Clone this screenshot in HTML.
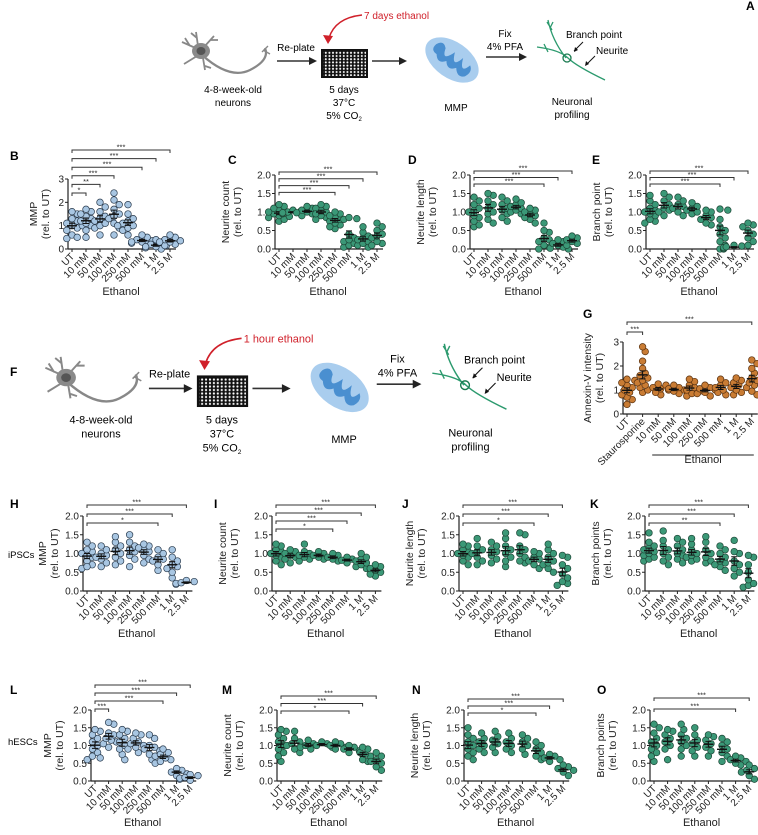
<!DOCTYPE html>
<html><head><meta charset="utf-8">
<style>
html,body{margin:0;padding:0;background:#fff;}
svg{display:block;font-family:"Liberation Sans",Arial,sans-serif;}
</style></head>
<body>
<svg id="fig" width="758" height="835" viewBox="0 0 758 835" xmlns="http://www.w3.org/2000/svg">
<defs>
<pattern id="wells" width="3.6" height="3.2" patternUnits="userSpaceOnUse"><circle cx="1.8" cy="1.6" r="1" fill="#fff"/></pattern>
</defs>
<g font-weight="bold" font-size="12" fill="#000">
<text x="746" y="10">A</text>
<text x="10" y="160">B</text>
<text x="228" y="164">C</text>
<text x="408" y="164">D</text>
<text x="592" y="164">E</text>
<text x="10" y="376">F</text>
<text x="583" y="318">G</text>
<text x="10" y="508">H</text>
<text x="214" y="508">I</text>
<text x="402" y="508">J</text>
<text x="590" y="508">K</text>
<text x="10" y="694">L</text>
<text x="222" y="694">M</text>
<text x="412" y="694">N</text>
<text x="597" y="694">O</text>
</g>
<text x="8" y="558" font-size="9.5">iPSCs</text>
<text x="8" y="745" font-size="9.5">hESCs</text>
<g id="diagA"></g>
<g id="diagF" transform="translate(-153,322) scale(1.09)"></g>
<g id="charts"></g>
</svg>
<script>
const NS="http://www.w3.org/2000/svg";
function mk(parent,tag,attrs,txt){const e=document.createElementNS(NS,tag);for(const k in attrs)e.setAttribute(k,attrs[k]);if(txt!==undefined)e.textContent=txt;parent.appendChild(e);return e;}

function diagram(g,redText){
  const dy=0;
  const t=(x,y)=>x+","+(y+dy);
  const n=mk(g,'g',{});
  
  
  mk(n,'path',{d:`M${t(202,55)} Q${t(230,80)} ${t(250,70)} T${t(265,48)}`,stroke:'#888',fill:'none','stroke-width':2.2});
  mk(n,'path',{d:`M${t(262,52)} L${t(268,46)} M${t(263,50)} L${t(270,54)}`,stroke:'#888','stroke-width':1.4});
  mk(n,'path',{d:`M${t(200,50)} L${t(182,42)} M${t(190,46)} L${t(185,38)} M${t(198,46)} L${t(196,32)} M${t(197,38)} L${t(191,33)} M${t(204,47)} L${t(214,36)} M${t(210,40)} L${t(218,40)} M${t(197,56)} L${t(184,64)} M${t(203,58)} L${t(205,70)} M${t(205,66)} L${t(211,68)}`,stroke:'#888','stroke-width':1.8,fill:'none'});
  mk(n,'ellipse',{cx:201,cy:51+dy,rx:9,ry:8,fill:'#8a8a8a'});
  mk(n,'ellipse',{cx:201,cy:51+dy,rx:4.5,ry:4,fill:'#555'});
  mk(g,'text',{x:233,y:93+dy,'font-size':10,'text-anchor':'middle'},'4-8-week-old');
  mk(g,'text',{x:233,y:106+dy,'font-size':10,'text-anchor':'middle'},'neurons');
  const arrows=[[277,317,61,'Re-plate',296,51],[372,407,61,null],[486,527,57,'Fix',505,37]];
  arrows.forEach(a=>{
    const ar=mk(g,'g',{});
    
    
    mk(ar,'line',{x1:a[0],y1:a[2]+dy,x2:a[1]-6,y2:a[2]+dy,stroke:'#333','stroke-width':1.5});
    mk(ar,'path',{d:`M${a[1]},${a[2]+dy} L${a[1]-8},${a[2]-4+dy} L${a[1]-8},${a[2]+4+dy}Z`,fill:'#222'});
    if(a[3])mk(ar,'text',{x:a[4],y:a[5]+dy,'font-size':10,'text-anchor':'middle'},a[3]);
  });
  mk(g,'text',{x:505,y:50+dy,'font-size':10,'text-anchor':'middle'},'4% PFA');
  const p=mk(g,'g',{});
  
  
  mk(p,'rect',{x:321,y:49+dy,width:47,height:29,fill:'#111'});
  mk(p,'rect',{x:323,y:51+dy,width:43,height:25,fill:'url(#wells)'});
  mk(g,'text',{x:344,y:93+dy,'font-size':10,'text-anchor':'middle'},'5 days');
  mk(g,'text',{x:344,y:106+dy,'font-size':10,'text-anchor':'middle'},'37°C');
  const co=mk(g,'text',{x:344,y:119+dy,'font-size':10,'text-anchor':'middle'},'5% CO');
  mk(co,'tspan',{'font-size':6,dy:2},'2');
  const r=mk(g,'g',{});
  
  
  mk(r,'path',{d:`M${t(362,15)} Q${t(335,18)} ${t(329,38)}`,stroke:'#d0202a',fill:'none','stroke-width':1.5});
  mk(r,'path',{d:`M${t(328,44)} L${t(323,35)} L${t(333,36)}Z`,fill:'#d0202a'});
  mk(r,'text',{x:364,y:19+dy,'font-size':10,fill:'#d0202a'},redText);
  const m=mk(g,'g',{transform:`translate(452,${60+dy}) rotate(35)`});
  
  
  mk(m,'ellipse',{cx:0,cy:0,rx:30,ry:18,fill:'#a9cdee'});
  mk(m,'path',{d:'M-22,-4 Q-18,-12 -12,-6 Q-8,8 -2,-8 Q4,8 8,-8 Q14,8 18,-6 Q24,-2 20,6 Q14,12 8,4 Q2,12 -4,4 Q-10,12 -16,4 Q-24,4 -22,-4Z',fill:'#4a8fd0'});
  mk(g,'text',{x:456,y:111+dy,'font-size':10,'text-anchor':'middle'},'MMP');
  const q=mk(g,'g',{});
  
  
  mk(q,'path',{d:`M${t(537,47)} Q${t(560,50)} ${t(568,58)} T${t(605,80)} M${t(548,20)} Q${t(552,40)} ${t(566,58)} M${t(547,22)} L${t(552,30)} M${t(553,22)} L${t(550,28)} M${t(544,44)} L${t(548,52)}`,stroke:'#2c9a6e',fill:'none','stroke-width':1.3});
  mk(q,'circle',{cx:567,cy:58+dy,r:4,fill:'none',stroke:'#1a7a50','stroke-width':1.3});
  mk(q,'text',{x:566,y:38+dy,'font-size':10},'Branch point');
  mk(q,'path',{d:`M${t(583,42)} L${t(574,51)}`,stroke:'#111','stroke-width':1});
  mk(q,'path',{d:`M${t(574,52)} L${t(575,47)} L${t(578,50)}Z`,fill:'#111'});
  mk(q,'text',{x:596,y:54+dy,'font-size':10},'Neurite');
  mk(q,'path',{d:`M${t(595,56)} L${t(586,65)}`,stroke:'#111','stroke-width':1});
  mk(q,'path',{d:`M${t(585,66)} L${t(586,61)} L${t(589,64)}Z`,fill:'#111'});
  mk(g,'text',{x:572,y:105+dy,'font-size':10,'text-anchor':'middle'},'Neuronal');
  mk(g,'text',{x:572,y:118+dy,'font-size':10,'text-anchor':'middle'},'profiling');
}
diagram(document.getElementById('diagA'),'7 days ethanol');
diagram(document.getElementById('diagF'),'1 hour ethanol');

// ---------- chart data ----------
const catsEthanol=["UT","10 mM","50 mM","100 mM","250 mM","500 mM","1 M","2.5 M"];
const catsG=["UT","Staurosporine","10 mM","50 mM","100 mM","250 mM","500 mM","1 M","2.5 M"];
const ticks3=[0,1,2,3];
const ticks2=[0,0.5,1,1.5,2];
const tickLabels3=["0","1","2","3"];
const tickLabels2=["0.0","0.5","1.0","1.5","2.0"];

const valsB=[[0.45,0.6,0.8,0.9,1.0,1.1,1.2,1.3,1.5,1.6,0.5,1.0],[0.5,0.8,1.0,1.2,1.3,1.4,1.5,1.6,1.7,1.1],[0.6,0.9,1.0,1.2,1.3,1.4,1.6,1.8,2.0,1.1],[0.6,0.9,1.1,1.3,1.5,1.7,1.9,2.1,2.4,1.4],[0.6,0.8,0.9,1.0,1.1,1.2,1.3,1.5,1.9,1.0],[0.2,0.25,0.3,0.35,0.4,0.5,0.6,0.3],[0.0,0.05,0.1,0.15,0.2,0.3,0.4,0.1],[0.15,0.2,0.3,0.35,0.4,0.5,0.6,0.3]];
const valsC=[[0.75,0.8,0.85,0.9,0.95,1.0,1.05,1.1,1.15,1.2,0.88,1.0],[0.95,0.97,1.0,1.02,1.05,0.98],[0.9,0.95,1.0,1.05,1.1,1.15,0.98,1.02],[0.8,0.85,0.9,1.0,1.05,1.1,1.15,1.2,0.95],[0.55,0.65,0.7,0.75,0.8,0.85,0.9,0.95,1.0,0.6],[0.05,0.1,0.15,0.2,0.3,0.4,0.8,0.85,0.82,0.25],[0.05,0.1,0.15,0.2,0.25,0.3,0.35,0.45,0.6],[0.1,0.15,0.2,0.3,0.35,0.4,0.5,0.6,0.7]];
const valsD=[[0.6,0.65,0.75,0.85,0.9,1.0,1.05,1.1,1.2,1.3,1.4],[0.7,0.8,0.95,1.0,1.1,1.2,1.3,1.45,1.5],[0.75,0.85,0.95,1.05,1.1,1.2,1.3,1.4],[0.95,1.0,1.05,1.1,1.15,1.2,1.25,1.35],[0.7,0.8,0.85,0.9,0.95,1.0,1.05,1.1],[0.0,0.05,0.1,0.2,0.25,0.3,0.45,0.5,0.7],[0.0,0.02,0.05,0.1,0.15,0.2,0.25],[0.1,0.15,0.2,0.25,0.3,0.35]];
const valsE=[[0.7,0.75,0.8,0.9,0.95,1.0,1.05,1.1,1.2,1.3,1.45],[0.9,1.0,1.1,1.2,1.3,1.4,1.5,1.05],[0.9,1.0,1.1,1.15,1.2,1.3,1.4],[0.95,1.0,1.05,1.1,1.15,1.25],[0.65,0.7,0.8,0.85,0.9,1.0,1.05],[0.0,0.1,0.2,0.3,0.4,0.5,0.6,0.8,1.05,1.08],[0.0,0.02,0.04,0.06,0.08,0.1],[0.1,0.2,0.3,0.4,0.5,0.6,0.65,0.7]];
const valsG=[[0.4,0.6,0.7,0.8,0.9,1.0,1.1,1.2,1.3,1.4,1.45],[0.9,1.0,1.1,1.2,1.3,1.4,1.5,1.6,1.7,1.9,2.2,2.6,2.8],[0.8,0.9,1.0,1.05,1.1,1.2,1.25],[0.85,0.95,1.0,1.05,1.1,1.2],[0.75,0.85,0.95,1.0,1.1,1.2,1.35,1.45],[0.75,0.85,0.9,1.0,1.05,1.1,1.2],[0.8,0.9,1.0,1.1,1.2,1.3,1.45],[0.8,0.9,1.0,1.1,1.2,1.3,1.4,1.5],[0.8,0.95,1.1,1.2,1.3,1.4,1.5,1.7,1.9,2.1,2.25]];
const valsH=[[0.6,0.7,0.8,0.9,1.0,1.05,1.1,1.2,1.3,0.65,0.95],[0.65,0.75,0.85,0.95,1.0,1.1,1.2,0.9],[0.7,0.8,0.9,1.0,1.1,1.2,1.3,1.45],[0.65,0.85,0.95,1.05,1.1,1.2,1.3,1.5],[0.75,0.85,0.95,1.05,1.1,1.15,1.2,1.25],[0.55,0.7,0.8,0.85,0.9,1.0,1.1],[0.35,0.5,0.6,0.65,0.7,0.8,0.9,1.1],[0.18,0.2,0.22,0.25,0.28]];
const valsI=[[0.7,0.8,0.9,0.95,1.0,1.05,1.1,1.2,1.25],[0.75,0.85,0.9,0.95,1.0,1.05,1.1],[0.8,0.85,0.9,0.95,1.0,1.05,1.25],[0.85,0.9,0.95,1.0,1.05],[0.8,0.85,0.9,0.95,1.0],[0.75,0.8,0.82,0.85,0.9],[0.6,0.65,0.7,0.75,0.8,0.85,0.9,1.0],[0.4,0.45,0.5,0.55,0.6,0.65,0.7]];
const valsJ=[[0.7,0.8,0.9,0.95,1.0,1.05,1.1,1.2,1.25],[0.7,0.8,0.9,1.0,1.05,1.1,1.2,1.4],[0.75,0.85,0.95,1.05,1.1,1.2,1.3],[0.65,0.8,0.9,1.0,1.1,1.2,1.4,1.55],[0.75,0.8,0.9,1.0,1.1,1.2,1.5,1.55],[0.6,0.7,0.8,0.85,0.9,1.0,1.05],[0.5,0.6,0.7,0.75,0.8,0.9,1.0,1.1,1.25],[0.15,0.2,0.25,0.35,0.45,0.6,0.7,0.9,0.95]];
const valsK=[[0.8,0.85,0.9,0.95,1.0,1.05,1.1,1.15,1.2,1.3,1.55],[0.7,0.8,0.9,1.0,1.1,1.2,1.35,1.6],[0.75,0.85,0.95,1.0,1.1,1.2,1.3,1.4],[0.8,0.85,0.9,0.95,1.0,1.1,1.25,1.4],[0.75,0.8,0.9,1.0,1.1,1.3,1.45],[0.55,0.65,0.7,0.75,0.8,0.9,1.0,1.1,1.2],[0.4,0.5,0.6,0.7,0.8,1.0,1.05,1.35],[0.1,0.15,0.2,0.3,0.5,0.7,0.9,0.95]];
const valsL=[[0.6,0.7,0.8,0.9,1.0,1.1,1.2,1.3,1.4,1.45,0.65],[0.95,1.05,1.1,1.15,1.2,1.3,1.35,1.6,1.65],[0.6,0.75,0.9,1.0,1.1,1.2,1.3,1.4,1.45],[0.8,0.9,0.95,1.0,1.05,1.1,1.2,1.3,1.35],[0.6,0.75,0.85,0.9,0.95,1.0,1.2,1.3],[0.5,0.55,0.6,0.65,0.7,0.75,0.8,0.9],[0.15,0.2,0.25,0.3,0.35],[0.02,0.05,0.08,0.1,0.15,0.18]];
const valsM=[[0.55,0.7,0.8,0.9,1.0,1.1,1.2,1.3,1.4,1.45],[0.8,0.9,1.0,1.05,1.1,1.2,1.4],[0.9,0.95,1.0,1.05,1.15],[0.95,1.0,1.05,1.1],[0.9,0.95,1.0,1.05,1.1],[0.8,0.85,0.9,0.95,1.0],[0.55,0.6,0.7,0.75,0.8,0.9,0.95],[0.3,0.4,0.5,0.55,0.6,0.7,0.8]];
const valsN=[[0.6,0.7,0.8,0.9,1.0,1.1,1.2,1.3,1.5],[0.8,0.9,1.0,1.1,1.2,1.35],[0.8,0.95,1.05,1.15,1.25,1.4],[0.8,0.9,1.0,1.1,1.2,1.35],[0.75,0.9,1.0,1.1,1.2,1.3],[0.6,0.7,0.8,0.9,1.0,1.1],[0.55,0.6,0.65,0.7,0.75],[0.15,0.25,0.3,0.35,0.4,0.45]];
const valsO=[[0.55,0.7,0.8,0.9,1.0,1.1,1.2,1.35,1.5,1.6],[0.6,0.9,1.0,1.1,1.2,1.3,1.4,1.45],[0.7,0.9,1.0,1.1,1.2,1.3,1.45,1.6],[0.7,0.85,0.95,1.05,1.15,1.3,1.5],[0.7,0.85,0.95,1.05,1.15,1.25,1.3],[0.55,0.7,0.8,0.9,1.0,1.1,1.2],[0.45,0.5,0.55,0.6,0.65,0.7],[0.05,0.15,0.25,0.3,0.35,0.45]];

const sigB=[[1,"*"],[2,"**"],[3,"***"],[5,"***"],[6,"***"],[7,"***"]];
const sigC=[[4,"***"],[5,"***"],[6,"***"],[7,"***"]];
const sigD=[[5,"***"],[6,"***"],[7,"***"]];
const sigE=[[5,"***"],[6,"***"],[7,"***"]];
const sigG=[[1,"***"],[8,"***"]];
const sigH=[[5,"*"],[6,"***"],[7,"***"]];
const sigI=[[4,"*"],[5,"***"],[6,"***"],[7,"***"]];
const sigJ=[[5,"*"],[6,"***"],[7,"***"]];
const sigK=[[5,"**"],[6,"***"],[7,"***"]];
const sigL=[[1,"***"],[5,"***"],[6,"***"],[7,"***"]];
const sigM=[[5,"*"],[6,"***"],[7,"***"]];
const sigN=[[5,"*"],[6,"***"],[7,"***"]];
const sigO=[[6,"***"],[7,"***"]];

const BLUE={fill:'#a8c6e2',stroke:'#2a3b4d'}, GREEN={fill:'#3b9877',stroke:'#1d4636'}, ORANGE={fill:'#c97c34',stroke:'#5a3210'};

const panels=[
 {id:'b',vals:valsB,sig:sigB,cats:catsEthanol,ticks:ticks3,tl:tickLabels3,max:3,ax:68,y0:249,yT:179,sp:14,c:BLUE,lab:['MMP','(rel. to UT)'],lo:[-31,-19],bTop:150,bSp:8.6,eth:295},
 {id:'c',vals:valsC,sig:sigC,cats:catsEthanol,ticks:ticks2,tl:tickLabels2,max:2,ax:275,y0:249,yT:175,sp:14,c:GREEN,lab:['Neurite count','(rel. to UT)'],lo:[-46,-34],bTop:172,bSp:6.8,eth:295},
 {id:'d',vals:valsD,sig:sigD,cats:catsEthanol,ticks:ticks2,tl:tickLabels2,max:2,ax:470,y0:249,yT:175,sp:14,c:GREEN,lab:['Neurite length','(rel. to UT)'],lo:[-46,-34],bTop:171,bSp:6.5,eth:295},
 {id:'e',vals:valsE,sig:sigE,cats:catsEthanol,ticks:ticks2,tl:tickLabels2,max:2,ax:646,y0:249,yT:175,sp:14,c:GREEN,lab:['Branch point','(rel. to UT)'],lo:[-46,-34],bTop:171,bSp:6.5,eth:295},
 {id:'g',vals:valsG,sig:sigG,cats:catsG,ticks:ticks3,tl:tickLabels3,max:3,ax:623,y0:414,yT:342,sp:15.6,c:ORANGE,lab:['Annexin-V intensity','(rel. to UT)'],lo:[-32,-20],bTop:322,bSp:10,eth:463,ethLine:[2,8]},
 {id:'h',vals:valsH,sig:sigH,cats:catsEthanol,ticks:ticks2,tl:tickLabels2,max:2,ax:83,y0:591,yT:516,sp:14.2,c:BLUE,lab:['MMP','(rel. to UT)'],lo:[-37,-25],bTop:505,bSp:9,eth:637},
 {id:'i',vals:valsI,sig:sigI,cats:catsEthanol,ticks:ticks2,tl:tickLabels2,max:2,ax:272,y0:591,yT:516,sp:14.2,c:GREEN,lab:['Neurite count','(rel. to UT)'],lo:[-46,-34],bTop:505,bSp:8,eth:637},
 {id:'j',vals:valsJ,sig:sigJ,cats:catsEthanol,ticks:ticks2,tl:tickLabels2,max:2,ax:459,y0:591,yT:516,sp:14.2,c:GREEN,lab:['Neurite length','(rel. to UT)'],lo:[-46,-34],bTop:505,bSp:9,eth:637},
 {id:'k',vals:valsK,sig:sigK,cats:catsEthanol,ticks:ticks2,tl:tickLabels2,max:2,ax:645,y0:591,yT:516,sp:14.2,c:GREEN,lab:['Branch points','(rel. to UT)'],lo:[-46,-34],bTop:505,bSp:9,eth:637},
 {id:'l',vals:valsL,sig:sigL,cats:catsEthanol,ticks:ticks2,tl:tickLabels2,max:2,ax:91,y0:781,yT:710,sp:13.6,c:BLUE,lab:['MMP','(rel. to UT)'],lo:[-40,-28],bTop:685,bSp:8,eth:826},
 {id:'m',vals:valsM,sig:sigM,cats:catsEthanol,ticks:ticks2,tl:tickLabels2,max:2,ax:277,y0:781,yT:710,sp:13.6,c:GREEN,lab:['Neurite count','(rel. to UT)'],lo:[-46,-34],bTop:696,bSp:7.5,eth:826},
 {id:'n',vals:valsN,sig:sigN,cats:catsEthanol,ticks:ticks2,tl:tickLabels2,max:2,ax:464,y0:781,yT:710,sp:13.6,c:GREEN,lab:['Neurite length','(rel. to UT)'],lo:[-46,-34],bTop:699,bSp:7,eth:826},
 {id:'o',vals:valsO,sig:sigO,cats:catsEthanol,ticks:ticks2,tl:tickLabels2,max:2,ax:650,y0:781,yT:710,sp:13.6,c:GREEN,lab:['Branch points','(rel. to UT)'],lo:[-46,-34],bTop:698,bSp:11,eth:826}
];

const R=3.3;
function swarm(ys){
  // returns x offsets: beeswarm placement in pixel space
  const idx=ys.map((y,i)=>i).sort((a,b)=>ys[a]-ys[b]);
  const placed=[], off=new Array(ys.length).fill(0);
  const cand=[0,2.6,-2.6,5.2,-5.2,7.8,-7.8,10.4,-10.4];
  idx.forEach(i=>{
    let best=cand[cand.length-1];
    for(const c of cand){
      let ok=true;
      for(const p of placed){const dx=c-p[0],dy=ys[i]-p[1];if(dx*dx+dy*dy<(2*R*0.82)*(2*R*0.82)){ok=false;break;}}
      if(ok){best=c;break;}
    }
    off[i]=best;placed.push([best,ys[i]]);
  });
  return off;
}

const root=document.getElementById('charts');
panels.forEach(P=>{
  const g=mk(root,'g',{});
  
  
  const yS=v=>P.y0-(v/P.max)*(P.y0-P.yT);
  const xS=i=>P.ax+4+i*P.sp;
  const xEnd=xS(P.cats.length-1)+6;
  const ya=mk(g,'line',{x1:P.ax,y1:P.yT,x2:P.ax,y2:P.y0,stroke:'#222','stroke-width':1.2});
  
  
  const xa=mk(g,'line',{x1:P.ax,y1:P.y0,x2:xEnd,y2:P.y0,stroke:'#222','stroke-width':1.2});
  
  
  P.ticks.forEach((t,k)=>{
    mk(g,'line',{x1:P.ax-3,y1:yS(t),x2:P.ax,y2:yS(t),stroke:'#222','stroke-width':1});
    const tl=mk(g,'text',{x:P.ax-4,y:yS(t)+3.5,'font-size':10,'text-anchor':'end',fill:'#222'},P.tl[k]);
    
    
  });
  const yc=(P.y0+P.yT)/2;
  P.lab.forEach((s,k)=>{
    const x=P.ax+P.lo[k];
    const yl=mk(g,'text',{x:x,y:yc,'font-size':10.5,'text-anchor':'middle',transform:`rotate(-90 ${x} ${yc})`,fill:'#222'},s);
    
    
  });
  P.cats.forEach((c,i)=>{
    const x=xS(i);
    mk(g,'line',{x1:x,y1:P.y0,x2:x,y2:P.y0+3,stroke:'#222','stroke-width':1});
    const cl=mk(g,'text',{x:x+3,y:P.y0+8,'font-size':10,'text-anchor':'end',transform:`rotate(-45 ${x+3} ${P.y0+8})`,fill:'#222'},c);
    
    
    const vs=P.vals[i];
    const ys=vs.map(yS);
    const offs=swarm(ys);
    vs.forEach((v,j)=>{
      const d=mk(g,'circle',{cx:x+offs[j],cy:ys[j],r:R,fill:P.c.fill,stroke:P.c.stroke,'stroke-width':0.7});
      
      
    });
    const mean=vs.reduce((a,b)=>a+b,0)/vs.length;
    const sd=Math.sqrt(vs.reduce((a,b)=>a+(b-mean)*(b-mean),0)/(vs.length-1));
    const se=sd/Math.sqrt(vs.length);
    const mn=mk(g,'line',{x1:x-5,y1:yS(mean),x2:x+5,y2:yS(mean),stroke:'#111','stroke-width':1.4});
    
    
    mk(g,'path',{d:`M${x},${yS(mean-se)} V${yS(mean+se)} M${x-3},${yS(mean-se)} H${x+3} M${x-3},${yS(mean+se)} H${x+3}`,stroke:'#111','stroke-width':1,fill:'none'});
  });
  const n=P.sig.length;
  P.sig.forEach((s,k)=>{
    const y=P.bTop+(n-1-k)*P.bSp;
    const x1=xS(0), x2=xS(s[0]);
    const b=mk(g,'path',{d:`M${x1},${y+3} V${y} H${x2} V${y+3}`,stroke:'#333','stroke-width':1,fill:'none'});
    
    
    const st=mk(g,'text',{x:(x1+x2)/2,y:y-0.5,'font-size':7.5,'text-anchor':'middle',fill:'#222'},s[1]);
    
    
  });
  let ex;
  if(P.ethLine){
    const a=xS(P.ethLine[0])-6,b=xS(P.ethLine[1])+2;
    const el=mk(g,'line',{x1:a,y1:P.eth-8,x2:b,y2:P.eth-8,stroke:'#222','stroke-width':1});
    
    
    ex=(a+b)/2;
  } else ex=(xS(0)+xS(P.cats.length-1))/2;
  const et=mk(g,'text',{x:ex,y:P.eth,'font-size':11,'text-anchor':'middle',fill:'#222'},'Ethanol');
  
  
});
</script>
</body></html>
